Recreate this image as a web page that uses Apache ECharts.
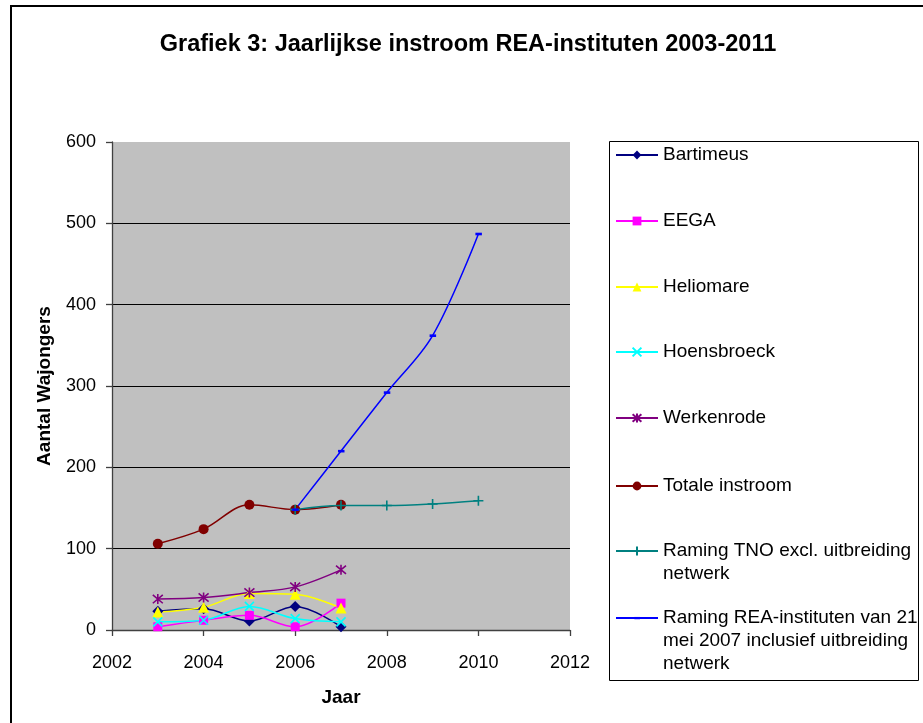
<!DOCTYPE html>
<html><head><meta charset="utf-8">
<script src="https://cdn.jsdelivr.net/npm/echarts@6/dist/echarts.min.js"></script>
<style>html,body{margin:0;padding:0;background:#fff}#c{width:923px;height:723px}</style>
</head><body><div id="c"></div>
<script>
const titleText = 'Grafiek 3: Jaarlijkse instroom REA-instituten 2003-2011';
const xName = 'Jaar';
const yName = 'Aantal Wajongers';
const yearsHist = [2003, 2004, 2005, 2006, 2007];
const yearsForecast = [2006, 2007, 2008, 2009, 2010];
const bartimeus = [23, 26, 11, 29, 4];
const eega = [4, 12, 18, 4, 33];
const heliomare = [22, 28, 45, 44, 27];
const hoensbroeck = [10, 12, 29, 14, 10];
const werkenrode = [38, 40, 46, 53, 74];
const totaleInstroom = [106, 124, 154, 148, 154];
const ramingTNO = [148, 153, 153, 155, 159];
const ramingREA = [148, 220, 292, 362, 487];
const xTickRange = [2002, 2012, 2];
const yTickRange = [0, 600, 100];

const seriesNames = ['Bartimeus', 'EEGA', 'Heliomare', 'Hoensbroeck', 'Werkenrode', 'Totale instroom',
  'Raming TNO excl. uitbreiding netwerk', 'Raming REA-instituten van 21 mei 2007 inclusief uitbreiding netwerk'];
const legendLabels = ['Bartimeus', 'EEGA', 'Heliomare', 'Hoensbroeck', 'Werkenrode', 'Totale instroom',
  'Raming TNO excl. uitbreiding\nnetwerk', 'Raming REA-instituten van 21\nmei 2007 inclusief uitbreiding\nnetwerk'];

const FONT = "'Liberation Sans', Arial, sans-serif";
const pairs = (xs, ys) => xs.map((x, i) => [x, ys[i]]);

function lineSeries(name, xs, ys, color, symbol, size, stroked, smooth) {
  return {
    name: name, type: 'line', data: pairs(xs, ys),
    smooth: smooth, symbol: symbol, symbolSize: size, showSymbol: true,
    lineStyle: { color: color, width: 1.5 },
    itemStyle: stroked ? { color: color, borderColor: color, borderWidth: 1.6 } : { color: color, borderWidth: 0 },
    emphasis: { disabled: true }, z: 3
  };
}

const X_PATH = 'path://M0,0L10,10M10,0L0,10';
const STAR_PATH = 'path://M0,0L10,10M10,0L0,10M5,-1L5,11';
const PLUS_PATH = 'path://M5,0L5,10M0,5L10,5';
const DASH_PATH = 'path://M0,0M10,10M2,3.8L8.5,3.8L8.5,6.4L2,6.4Z';

const series = [
  lineSeries(seriesNames[0], yearsHist, bartimeus, '#000080', 'diamond', 11, false, 0.35),
  lineSeries(seriesNames[1], yearsHist, eega, '#FF00FF', 'rect', 9, false, 0.35),
  lineSeries(seriesNames[2], yearsHist, heliomare, '#FFFF00', 'triangle', 11, false, 0.35),
  lineSeries(seriesNames[3], yearsHist, hoensbroeck, '#00FFFF', X_PATH, 9, true, 0.35),
  lineSeries(seriesNames[4], yearsHist, werkenrode, '#800080', STAR_PATH, 10, true, 0.35),
  lineSeries(seriesNames[5], yearsHist, totaleInstroom, '#800000', 'circle', 10, false, 0.35),
  lineSeries(seriesNames[6], yearsForecast, ramingTNO, '#008080', PLUS_PATH, 10, true, 0.35),
  lineSeries(seriesNames[7], yearsForecast, ramingREA, '#0000FF', DASH_PATH, 10, false, 0.35)
];

const legendCenters = [155, 221, 287, 352, 418, 486, 551, 618];
const LH = 23;
const legends = seriesNames.map((n, i) => {
  const lines = legendLabels[i].split('\n').length;
  const label = '\n'.repeat(lines - 1) + legendLabels[i];
  return {
    data: [n], orient: 'vertical', left: 615,
    top: legendCenters[i] - 11.5 - (lines - 1) * LH,
    padding: 0, itemGap: 0, itemWidth: 42, itemHeight: 11, selectedMode: false,
    formatter: () => label,
    textStyle: { fontSize: 19, fontFamily: FONT, color: '#000', lineHeight: LH }
  };
});

const chart = echarts.init(document.getElementById('c'), null, { renderer: 'canvas' });
chart.setOption({
  animation: false,
  backgroundColor: '#fff',
  textStyle: { fontFamily: FONT },
  title: {
    text: titleText, left: 468, top: 33, textAlign: 'center', padding: 0,
    textStyle: { fontSize: 23.5, fontWeight: 'bold', fontFamily: FONT, color: '#000' }
  },
  graphic: [
    { type: 'rect', shape: { x: 11, y: 6, width: 960, height: 760 },
      style: { fill: 'none', stroke: '#000', lineWidth: 2 }, silent: true },
    { type: 'rect', shape: { x: 609.5, y: 141.5, width: 309, height: 539 },
      style: { fill: '#fff', stroke: '#000', lineWidth: 1 }, silent: true }
  ],
  legend: legends,
  grid: { left: 112, right: 353, top: 142, bottom: 93, show: true, backgroundColor: '#C0C0C0', borderWidth: 0, containLabel: false },
  xAxis: {
    type: 'value', min: xTickRange[0], max: xTickRange[1], interval: xTickRange[2],
    name: xName, nameLocation: 'middle', nameGap: 58,
    nameTextStyle: { fontSize: 19, fontWeight: 'bold', color: '#000', fontFamily: FONT },
    axisLine: { show: true, onZero: false, lineStyle: { color: '#404040', width: 1.3 } },
    axisTick: { show: true, inside: false, length: 6, lineStyle: { color: '#404040', width: 1.3 } },
    axisLabel: { fontSize: 18, color: '#000', margin: 24, fontFamily: FONT, formatter: v => String(v),
      showMinLabel: true, showMaxLabel: true, hideOverlap: false },
    splitLine: { show: false }
  },
  yAxis: {
    type: 'value', min: yTickRange[0], max: yTickRange[1], interval: yTickRange[2],
    name: yName, nameLocation: 'middle', nameGap: 58, nameRotate: 90,
    nameTextStyle: { fontSize: 19, fontWeight: 'bold', color: '#000', fontFamily: FONT },
    axisLine: { show: true, lineStyle: { color: '#404040', width: 1.3 } },
    axisTick: { show: true, inside: false, length: 6, lineStyle: { color: '#404040', width: 1.3 } },
    axisLabel: { fontSize: 18, color: '#000', margin: 16, fontFamily: FONT, formatter: v => String(v),
      showMinLabel: true, showMaxLabel: true, hideOverlap: false },
    splitLine: { show: true, lineStyle: { color: ['#000', '#000', '#000', '#000', '#000', '#000', 'rgba(0,0,0,0)'], width: 1 } }
  },
  series: series
});
</script></body></html>
